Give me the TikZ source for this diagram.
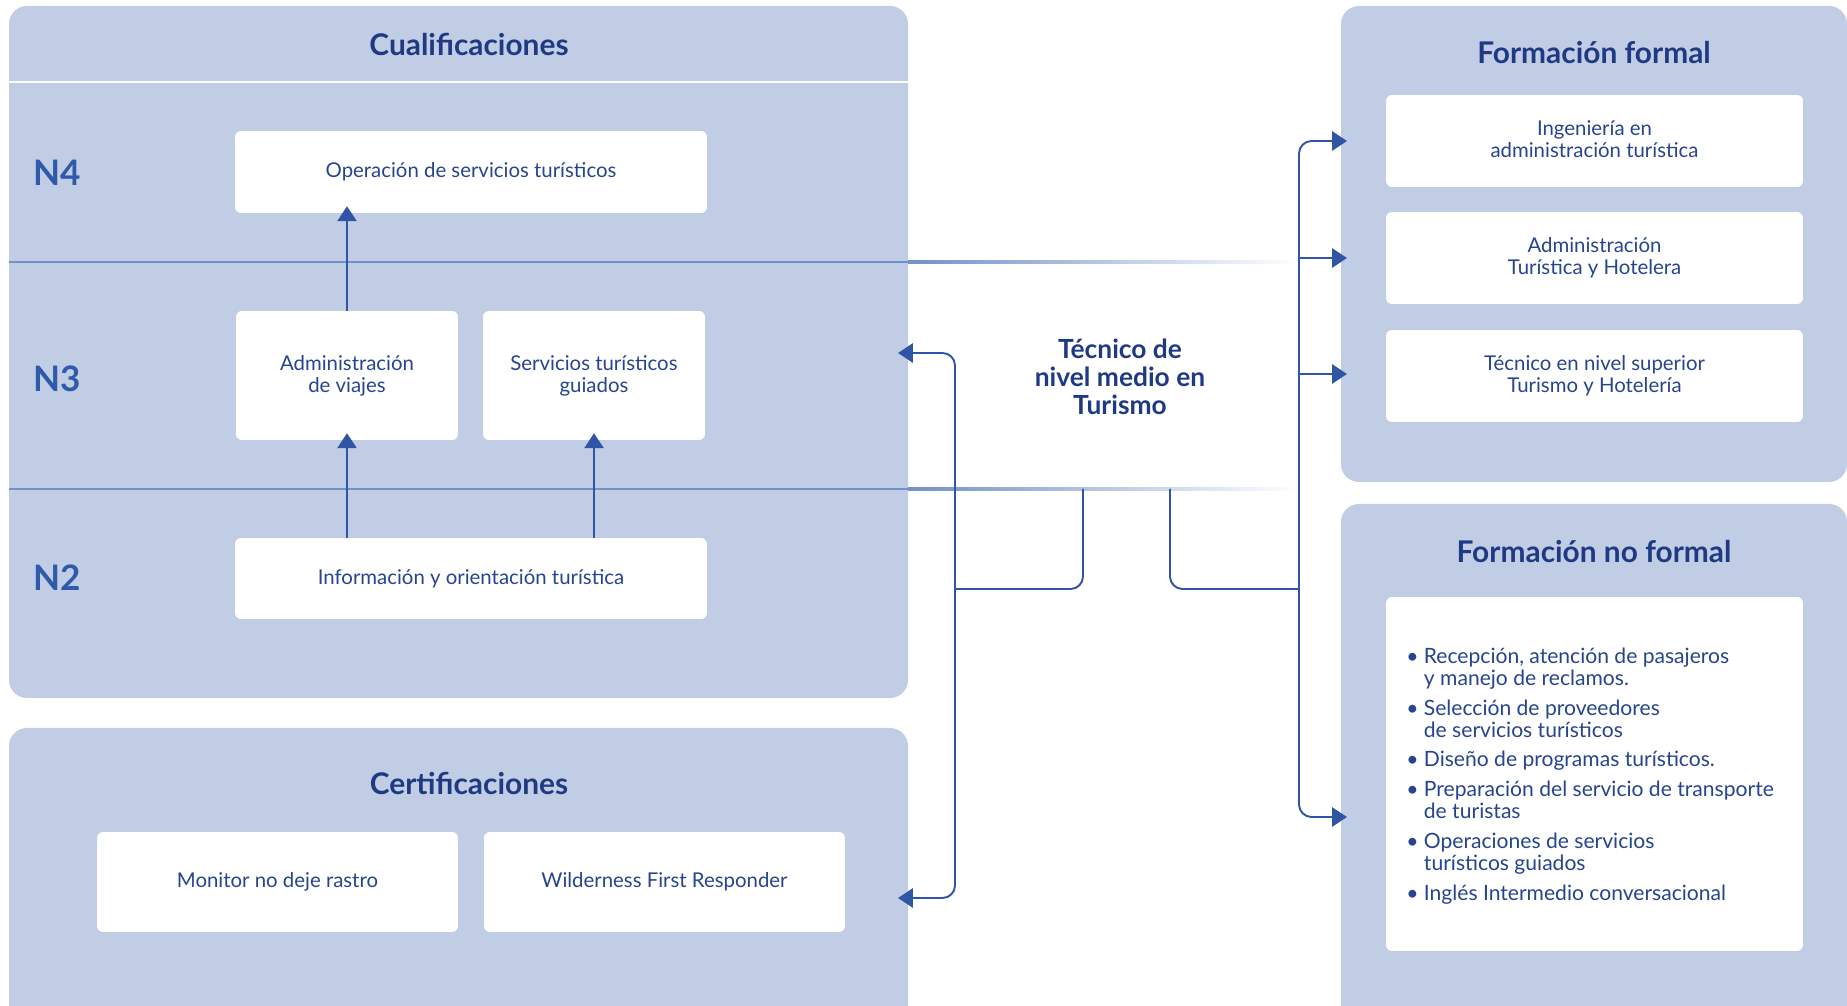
\documentclass[tikz,border=0pt]{standalone}
\usepackage{fontspec}
\setmainfont{Lato}
\usepackage{tikz}
\usetikzlibrary{arrows.meta}
\tikzset{>=latex}
\definecolor{panelc}{HTML}{C1CDE5}
\definecolor{headtxt}{HTML}{1F3A82}
\definecolor{boxtxt}{HTML}{27458F}
\definecolor{lvltxt}{HTML}{2F5AAA}
\definecolor{linec}{HTML}{2F55A4}
\definecolor{sepc}{HTML}{7391C8}
\newcommand{\bul}{\makebox[10pt][l]{\textbullet}}
\newcommand{\bulskip}{\hspace*{10pt}}

\begin{document}
\begin{tikzpicture}
                [x=0.02cm,y=-0.02cm,
                 panel/.style={fill=panelc,rounded corners=0.36cm},
                 box/.style={fill=white,rounded corners=0.12cm,inner sep=0pt,align=center,text=boxtxt,font=\fontsize{11.6}{12.5}\selectfont},
                 head/.style={text=headtxt,font=\bfseries\fontsize{17}{20}\selectfont},
                 lvl/.style={anchor=west,text=lvltxt,font=\bfseries\fontsize{20}{22}\selectfont},
                 conn/.style={draw=linec,line width=1.1pt},
                 arrowtip/.style={-{Triangle[length=8.5pt,width=11pt]}}]
                \useasboundingbox (0,0) rectangle (1847,1006);

                % panels
                \path[panel] (9,6) rectangle (908,698);
                \path[panel] (9,728) rectangle (908,1040);
                \path[panel] (1341,6) rectangle (1847,482);
                \path[panel] (1341,504) rectangle (1847,1040);
                \draw[white,line width=1.7pt] (9,82) -- (908,82);
                \foreach \y in {262,489}{
                    \draw[sepc,line width=1.7pt] (9,\y) -- (908,\y);
                    \shade[left color=sepc,right color=white] (908,\y-1.5) rectangle (1300,\y+1.5);
                }

                \node[head] (tcual) at (469,45) {Cualificaciones};
                \node[head] (tcert) at (469,783) {Certificaciones};
                \node[head] (tform) at (1594,53) {Formación formal};
                \node[head] (tnof) at (1594,552) {Formación no formal};

                \node[lvl] (n4) at (27,173) {N4};
                \node[lvl] (n3) at (27,379) {N3};
                \node[lvl] (n2) at (27,578) {N2};

                \node[box,minimum width=9.44cm,minimum height=1.64cm] (op) at (471,172) {Operación de servicios turísticos};
                \node[box,minimum width=4.44cm,minimum height=2.58cm] (adm) at (347,375.5) {Administración\\de viajes};
                \node[box,minimum width=4.44cm,minimum height=2.58cm] (guia) at (594,375.5) {Servicios turísticos\\guiados};
                \node[box,minimum width=9.44cm,minimum height=1.62cm] (info) at (471,578.5) {Información y orientación turística};

                \node[box,minimum width=7.22cm,minimum height=2cm] (lnt) at (277.5,882) {Monitor no deje rastro};
                \node[box,minimum width=7.22cm,minimum height=2cm] (wfr) at (664.5,882) {Wilderness First Responder};

                \node[text=headtxt,align=center,font=\bfseries\fontsize{15}{16}\selectfont] (tnm) at (1120,377) {Técnico de\\nivel medio en\\Turismo};

                \node[box,minimum width=8.34cm,minimum height=1.84cm] (ing) at (1594.5,141) {Ingeniería en\\administración turística\vphantom{g}};
                \node[box,minimum width=8.34cm,minimum height=1.84cm] (ath) at (1594.5,258) {Administración\\Turística y Hotelera};
                \node[box,minimum width=8.34cm,minimum height=1.84cm] (tns) at (1594.5,376) {Técnico en nivel superior\\Turismo y Hotelería};
                \node[box,minimum width=8.34cm,minimum height=7.08cm] (nf) at (1594.5,774) {};
                \node[anchor=west,inner sep=0pt,align=left,text=boxtxt,font=\fontsize{12}{12.5}\selectfont] (cursos) at (1406,776) {%
                    \bul Recepción, atención de pasajeros\\
                    \bulskip y manejo de reclamos.\\[4.5pt]
                    \bul Selección de proveedores\\
                    \bulskip de servicios turísticos\\[4.5pt]
                    \bul Diseño de programas turísticos.\\[4.5pt]
                    \bul Preparación del servicio de transporte\\
                    \bulskip de turistas\\[4.5pt]
                    \bul Operaciones de servicios\\
                    \bulskip turísticos guiados\\[4.5pt]
                    \bul Inglés Intermedio conversacional};

                % levels
                \draw[conn,arrowtip,shorten >=-4pt] (adm.north) -- (adm.north |- op.south);
                \draw[conn,arrowtip,shorten >=-4pt] (info.north -| adm) -- (adm.south);
                \draw[conn,arrowtip,shorten >=-4pt] (info.north -| guia) -- (guia.south);

                % routes
                \coordinate (dl) at (1083,489);
                \coordinate (dr) at (1170,489);
                \coordinate (jl) at (955,589);
                \coordinate (jr) at (1299,589);
                \coordinate (aq) at (898,353);
                \coordinate (ac) at (898,898);
                \coordinate (f1) at (1347,141);
                \coordinate (f2) at (1347,258);
                \coordinate (f3) at (1347,374);
                \coordinate (f4) at (1347,817);

                \draw[conn,rounded corners=0.25cm] (dl) |- (jl);
                \draw[conn,rounded corners=0.25cm] (dr) |- (jr);
                \draw[conn,arrowtip,rounded corners=0.25cm] (jl) |- (aq);
                \draw[conn,arrowtip,rounded corners=0.25cm] (jl) |- (ac);
                \draw[conn,arrowtip,rounded corners=0.25cm] (jr) |- (f1);
                \draw[conn,arrowtip] (jr |- f2) -- (f2);
                \draw[conn,arrowtip] (jr |- f3) -- (f3);
                \draw[conn,arrowtip,rounded corners=0.25cm] (jr) |- (f4);
            \end{tikzpicture}
\end{document}
